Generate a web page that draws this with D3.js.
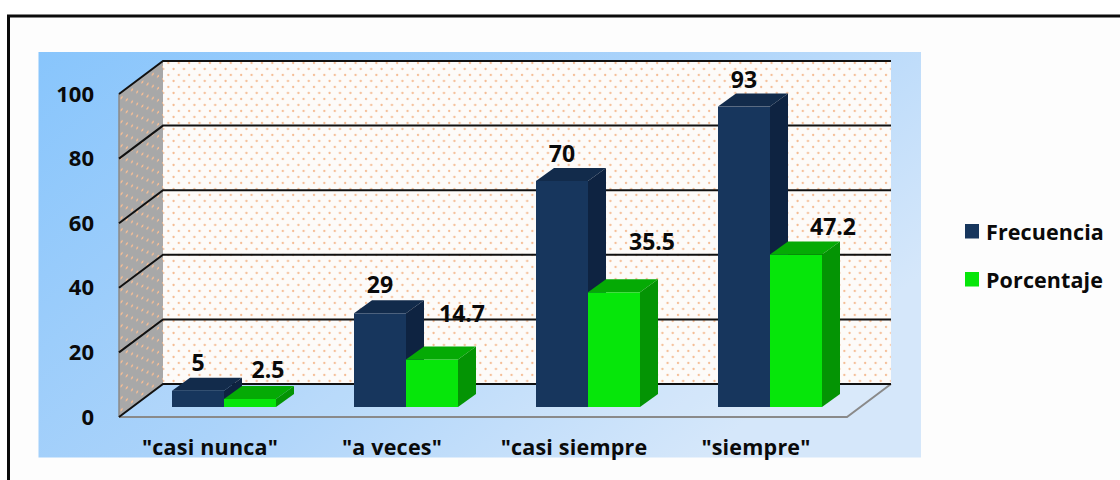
<!DOCTYPE html>
<html>
<head>
<meta charset="utf-8">
<script src="https://cdnjs.cloudflare.com/ajax/libs/d3/7.8.5/d3.min.js"></script>
<style>
html,body{margin:0;padding:0;background:#fff;}
svg{display:block;}
text{font-family:"Open Sans","Noto Sans",sans-serif;font-weight:600;fill:#0a0a0a;}
</style>
</head>
<body>
<svg id="chart" width="1120" height="480"></svg>
<script>
// Survey responses per category
const categories = ['"casi nunca"', '"a veces"', '"casi siempre', '"siempre"'];
const frecuencia = [5, 29, 70, 93];
const porcentaje = [2.5, 14.7, 35.5, 47.2];
const seriesNames = ["Frecuencia", "Porcentaje"];
const yTicks = [0, 20, 40, 60, 80, 100];

const svg = d3.select("#chart");
const defs = svg.append("defs");

// Backdrop gradient of the plot panel
const grad = defs.append("linearGradient").attr("id", "panel")
  .attr("x1", "0%").attr("y1", "0%").attr("x2", "100%").attr("y2", "55%");
grad.append("stop").attr("offset", "0%").attr("stop-color", "#88c5fc");
grad.append("stop").attr("offset", "55%").attr("stop-color", "#abd3fa");
grad.append("stop").attr("offset", "100%").attr("stop-color", "#d5e7fa");

// Dotted wall texture: staggered orange dots
function dots(id, bg, transform) {
  const p = defs.append("pattern").attr("id", id).attr("patternUnits", "userSpaceOnUse")
    .attr("width", 10.4).attr("height", 12).attr("patternTransform", transform || null);
  p.append("rect").attr("width", 10.4).attr("height", 12).attr("fill", bg);
  [[2, 3], [7.2, 9]].forEach(([cx, cy]) =>
    p.append("circle").attr("cx", cx).attr("cy", cy).attr("r", 1.15).attr("fill", "#f5bd95"));
}
dots("wallDots", "#fdfbf9");
dots("sideDots", "#a8a8a8", "skewY(-36.9)");

// Scales for the front plane of the box
const x = d3.scaleBand().domain(categories).range([119, 847]);
const y = d3.scaleLinear().domain([0, 100]).range([417, 94]);

// Depth of the box and of the bars, as screen offsets
const depth = { dx: 44, dy: -33 };
const barDepth = { dx: 18, dy: -13 };
const barInset = { dx: 13, dy: -10 };
const barWidth = 52;
const groupPad = 40;

// Label placement relative to the top-centre of each bar's front face
const labelShift = [
  [[0, -20], [18, -21]],
  [[0, -20], [30, -38]],
  [[0, -19], [38, -42]],
  [[0, -19], [37, -20]]
];

const poly = pts => pts.map(p => p.join(",")).join(" ");

// Frame
svg.append("rect").attr("x", 8.5).attr("y", 16).attr("width", 1120).attr("height", 480)
  .attr("fill", "#fdfdfd").attr("stroke", "#0b0b0b").attr("stroke-width", 3);
svg.append("rect").attr("x", 38.5).attr("y", 52).attr("width", 882.5).attr("height", 405.5)
  .attr("fill", "url(#panel)");

const x0 = x.range()[0], x1 = x.range()[1];
const y0 = y(0), yTop = y(100);

// Floor
svg.append("polygon")
  .attr("points", poly([[x0, y0], [x0 + depth.dx, y0 + depth.dy], [x1 + depth.dx, y0 + depth.dy], [x1, y0]]))
  .attr("fill", "#ffffff").attr("fill-opacity", 0.1);
svg.append("polyline")
  .attr("points", poly([[x0, y0], [x1, y0], [x1 + depth.dx, y0 + depth.dy]]))
  .attr("fill", "none").attr("stroke", "#8a8a8a").attr("stroke-width", 2);

// Back and side walls
svg.append("rect").attr("x", x0 + depth.dx).attr("y", yTop + depth.dy)
  .attr("width", x1 - x0).attr("height", y0 - yTop)
  .attr("fill", "url(#wallDots)");
svg.append("polygon")
  .attr("points", poly([[x0, y0], [x0, yTop], [x0 + depth.dx, yTop + depth.dy], [x0 + depth.dx, y0 + depth.dy]]))
  .attr("fill", "url(#sideDots)");
svg.append("line").attr("x1", x0).attr("x2", x0).attr("y1", yTop).attr("y2", y0)
  .attr("stroke", "#8a8a8a").attr("stroke-width", 1.5);

// Gridlines wrap from the side wall onto the back wall
const grid = svg.append("g").attr("fill", "none").attr("stroke", "#111").attr("stroke-width", 2);
grid.selectAll("polyline").data(yTicks).join("polyline")
  .attr("points", d => poly([
    [x0, y(d)],
    [x0 + depth.dx, y(d) + depth.dy],
    [x1 + depth.dx, y(d) + depth.dy]
  ]));

// Value axis
const yAxis = svg.append("g").attr("transform", "translate(100,0.5)")
  .call(d3.axisLeft(y).tickValues(yTicks).tickSize(0).tickPadding(6));
yAxis.select(".domain").remove();
yAxis.selectAll("text").style("font-size", "22px").style("font-family", null)
  .style("font-weight", 700).attr("dy", "0.3em");

// Category axis
const xAxis = svg.append("g").attr("transform", "translate(0,440)")
  .call(d3.axisBottom(x).tickSize(0).tickPadding(0));
xAxis.select(".domain").remove();
xAxis.selectAll("text").style("font-size", "21.5px").style("font-family", null)
  .style("letter-spacing", "0.2px").style("font-weight", 700).attr("dy", "0.71em");

// Bars
const colors = [
  { front: "#17365d", top: "#122b4b", side: "#0e2341" },
  { front: "#06e60a", top: "#05aa05", side: "#049404" }
];
const groundY = y0 + barInset.dy;

function drawBar(sel, value, i, c) {
  const left = x(categories[i]) + barInset.dx + groupPad + c * barWidth;
  const right = left + barWidth;
  const h = y(0) - y(value);
  const top = groundY - h;
  const col = colors[c];
  sel.append("rect").attr("x", left).attr("y", top).attr("width", barWidth).attr("height", h).attr("fill", col.front);
  sel.append("polygon").attr("fill", col.top).attr("points", poly([
    [left, top], [left + barDepth.dx, top + barDepth.dy], [right + barDepth.dx, top + barDepth.dy], [right, top]]));
  sel.append("polygon").attr("fill", col.side).attr("points", poly([
    [right, top], [right + barDepth.dx, top + barDepth.dy], [right + barDepth.dx, groundY + barDepth.dy], [right, groundY]]));
}

categories.forEach((cat, i) => {
  const g = svg.append("g").attr("class", "group");
  drawBar(g.append("g"), frecuencia[i], i, 0);
  drawBar(g.append("g"), porcentaje[i], i, 1);
});

// Value labels sit above all bars so neighbouring columns never cover them
categories.forEach((cat, i) => {
  [frecuencia[i], porcentaje[i]].forEach((value, c) => {
    const cx = x(cat) + barInset.dx + groupPad + c * barWidth + barWidth / 2;
    const top = groundY - (y(0) - y(value));
    svg.append("text")
      .attr("x", cx + labelShift[i][c][0])
      .attr("y", top + labelShift[i][c][1])
      .attr("text-anchor", "middle")
      .style("font-size", "23px").style("font-weight", 700).text(value);
  });
});

// Legend
const legend = svg.append("g").selectAll("g").data(seriesNames).join("g")
  .attr("transform", (d, i) => `translate(965,${224 + i * 48})`);
legend.append("rect").attr("width", 14).attr("height", 14.5).attr("fill", (d, i) => colors[i].front);
legend.append("text").attr("x", 21).attr("y", 15.5)
  .style("font-size", "21.5px").style("font-weight", 700).style("letter-spacing", "0.1px").text(d => d);
</script>
</body>
</html>
